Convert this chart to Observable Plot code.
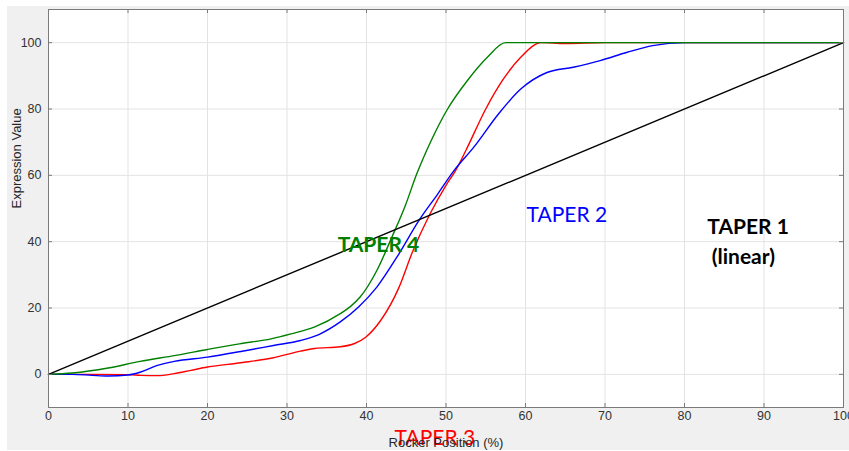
<!DOCTYPE html>
<html>
<head>
<meta charset="utf-8">
<script src="https://cdn.jsdelivr.net/npm/d3@7"></script>
<script src="https://cdn.jsdelivr.net/npm/@observablehq/plot@0.6"></script>
<style>
  html, body { margin: 0; padding: 0; background: #ffffff; }
  #wrap { position: relative; width: 849px; height: 451px; overflow: hidden; }
  #bg { position: absolute; left: 7px; top: 6px; width: 842px; height: 444px; background: #f0f0f0; }
  #chart { position: absolute; left: 0; top: 0; }
</style>
</head>
<body>
<div id="wrap"><div id="bg"></div><div id="chart"></div></div>
<script>
// Axis ticks
const xTicks = [0, 10, 20, 30, 40, 50, 60, 70, 80, 90, 100];
const yTicks = [0, 20, 40, 60, 80, 100];

// TAPER 1 (linear)
const taper1X = [0, 100];
const taper1Y = [0, 100];

// TAPER 2 (blue)
const taper2X = [0, 3, 5.5, 7.5, 10, 11.6, 13.7, 15.8, 20, 24.2, 28.3, 31.7, 34, 36.7, 39, 41.3, 44.1, 46.6, 49, 51, 53.5, 56.6, 59.4, 62.7, 66, 69.4, 72.8, 76, 80, 90, 100];
const taper2Y = [0, 0, -0.3, -0.5, -0.2, 0.7, 2.7, 3.9, 5.2, 6.9, 8.7, 10.2, 12, 15.8, 20.3, 26.3, 36.4, 46.4, 54.5, 61.4, 68.5, 78.5, 86, 91, 92.6, 94.6, 97.1, 99.1, 100, 100, 100];

// TAPER 3 (red)
const taper3X = [0, 5, 10, 11.6, 13.7, 15.8, 17.9, 20, 24.2, 28.3, 31.7, 33.5, 36.7, 38.5, 39.9, 41.8, 44.1, 45.7, 48, 50, 51.2, 52.5, 55, 57.1, 59.4, 62, 65, 70, 80, 90, 100];
const taper3Y = [0, 0, -0.1, -0.3, -0.4, 0.2, 1.2, 2.2, 3.5, 5, 7, 7.8, 8.3, 9.3, 11.2, 16.3, 26.3, 36.4, 48.4, 57, 61.4, 67.5, 80, 88.6, 95.6, 100, 99.7, 100, 100, 100, 100];

// TAPER 4 (green)
const taper4X = [0, 3, 7.5, 11.5, 16, 20, 24, 28, 30.5, 33.5, 36.7, 38, 39.2, 41.3, 43.2, 44.9, 46.3, 48.1, 50.2, 52.7, 55.2, 57.5, 60, 70, 80, 90, 100];
const taper4Y = [0, 0.4, 1.9, 3.9, 5.7, 7.5, 9.2, 10.7, 12.2, 14.3, 18.3, 20.5, 23.3, 31.3, 41.4, 51, 60.3, 70.3, 80, 88.6, 95.6, 100, 100, 100, 100, 100, 100];

// Annotation labels
const annoText = ["TAPER 4", "TAPER 2", "TAPER 1", "(linear)", "TAPER 3"];
const annoX = [41.5, 65.2, 88.0, 87.4, 48.6];
const annoY = [38.9, 47.9, 44.3, 35.2, -19.3];
const annoColor = ["#008000", "#0000ff", "#000000", "#000000", "#ff0000"];
const annoWeight = ["bold", "normal", "bold", "bold", "normal"];

const toRows = (xs, ys) => xs.map((x, i) => ({x, y: ys[i]}));
const anno = annoText.map((t, i) => ({t, x: annoX[i], y: annoY[i], c: annoColor[i], w: annoWeight[i]}));

const W = 849, H = 451;
const mT = 9, mB = 44, mL = 48, mR = 6;
const plotH = H - mT - mB, plotW = W - mL - mR;
const frameColor = "#7a7a7a";
const gridColor = "#e3e3e3";
const annoFont = "Lato, 'Open Sans', sans-serif";

function annoMark(i) {
  return Plot.text([anno[i]], {
    x: "x", y: "y", text: "t", fill: anno[i].c, fontWeight: anno[i].w,
    fontSize: 21, fontFamily: annoFont, textAnchor: "middle", lineAnchor: "middle"
  });
}

const chart = Plot.plot({
  width: W, height: H,
  marginTop: mT, marginBottom: mB, marginLeft: mL, marginRight: mR,
  style: {background: "transparent", fontFamily: "'Liberation Sans', Arial, sans-serif", fontSize: "12px", color: "#333"},
  x: {domain: [0, 100]},
  y: {domain: [-10, 110]},
  marks: [
    Plot.frame({fill: "white", stroke: null}),
    Plot.gridX(xTicks.filter(d => d > 0 && d < 100), {stroke: gridColor, strokeOpacity: 1}),
    Plot.gridY(yTicks, {stroke: gridColor, strokeOpacity: 1}),
    annoMark(4),
    Plot.line(toRows(taper3X, taper3Y), {x: "x", y: "y", stroke: "#ff0000", strokeWidth: 1.4, curve: "monotone-x"}),
    Plot.line(toRows(taper2X, taper2Y), {x: "x", y: "y", stroke: "#0000ff", strokeWidth: 1.4, curve: "monotone-x"}),
    Plot.line(toRows(taper4X, taper4Y), {x: "x", y: "y", stroke: "#008000", strokeWidth: 1.4, curve: "monotone-x"}),
    Plot.line(toRows(taper1X, taper1Y), {x: "x", y: "y", stroke: "#000000", strokeWidth: 1.4}),
    // inward ticks on all four sides
    Plot.tickX(xTicks, {x: d => d, insetTop: plotH - 4, stroke: frameColor}),
    Plot.tickX(xTicks, {x: d => d, insetBottom: plotH - 4, stroke: frameColor}),
    Plot.tickY(yTicks, {y: d => d, insetRight: plotW - 4, stroke: frameColor}),
    Plot.tickY(yTicks, {y: d => d, insetLeft: plotW - 4, stroke: frameColor}),
    Plot.frame({stroke: frameColor, strokeWidth: 1}),
    Plot.axisX(xTicks, {tickSize: 0, tickPadding: 4, label: null, fill: "#333", fontSize: 12.5}),
    Plot.axisY(yTicks, {tickSize: 0, tickPadding: 7, label: null, fill: "#333", fontSize: 12.5}),
    Plot.text(["Rocker Position (%)"], {frameAnchor: "bottom", dy: 35, lineAnchor: "middle", fill: "#262626", fontSize: 13}),
    Plot.text(["Expression Value"], {frameAnchor: "left", dx: -32, rotate: -90, lineAnchor: "middle", fill: "#262626", fontSize: 13}),
    annoMark(0), annoMark(1), annoMark(2), annoMark(3)
  ]
});
document.getElementById("chart").appendChild(chart);
</script>
</body>
</html>
